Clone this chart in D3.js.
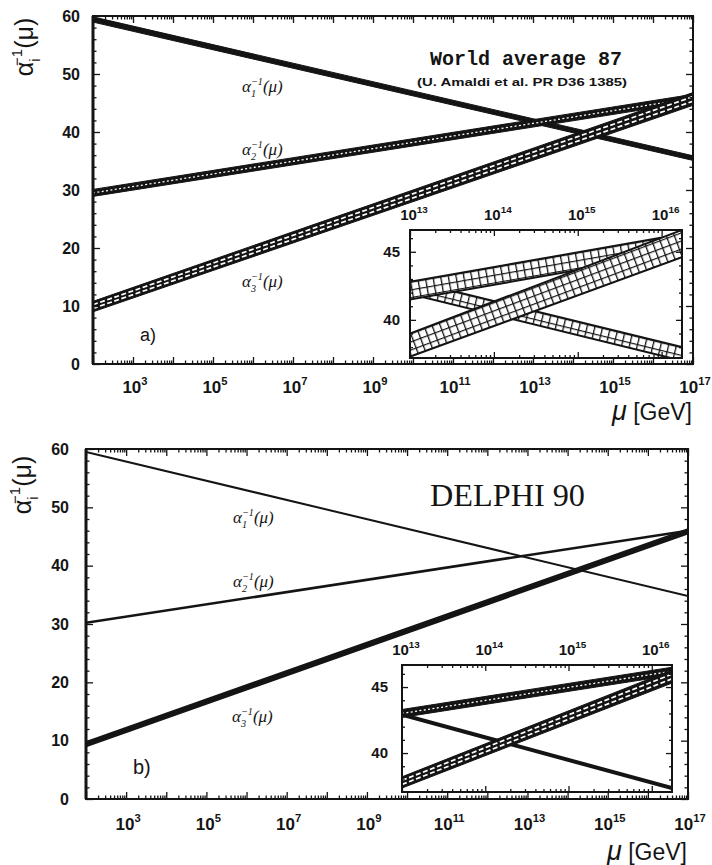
<!DOCTYPE html>
<html><head><meta charset="utf-8">
<script src="https://cdn.jsdelivr.net/npm/d3@7"></script>
<style>body{margin:0;background:#fff}</style>
</head><body>
<svg id="c" width="712" height="865"></svg>
<script>
// ================= DATA =================
const muEnds  = [1e2, 1e17];      // μ range of the main panels (GeV)
const muInset = [1e13, 1.75e16];  // μ range of the insets (GeV)
const yTicksMain  = [0, 10, 20, 30, 40, 50, 60];
const xLabelExpMain  = [3, 5, 7, 9, 11, 13, 15, 17];
const xLabelExpInset = [13, 14, 15, 16];
const yTicksInset = [40, 45];

// panel a (World average 87) – band edges at muEnds
const a1LoA = [58.95, 35.1], a1HiA = [59.85, 35.9];
const a2LoA = [28.9, 45.2], a2HiA = [30.1, 46.5];
const a3LoA = [9.0, 44.6],  a3HiA = [10.8, 46.8];
// panel a inset – band edges at muInset
const a1LoAi = [41.9, 37.0], a1HiAi = [42.9, 38.0];
const a2LoAi = [41.5, 45.0], a2HiAi = [42.8, 46.3];
const a3LoAi = [37.3, 44.6], a3HiAi = [39.0, 46.6];

// panel b (DELPHI 90) – central values at muEnds
const a1B = [59.5, 34.8];
const a2B = [30.2, 46.0];
const a3B = [9.4, 45.9];
// panel b inset – at muInset
const a1Bi = [42.9, 37.35];
const a2LoBi = [42.7, 45.9], a2HiBi = [43.3, 46.5];
const a3LoBi = [37.35, 45.3], a3HiBi = [38.2, 46.3];

// ================= DRAWING =================
const F_SANS  = "'Liberation Sans', Arial, sans-serif";
const F_SERIF = "'Liberation Serif', 'Times New Roman', serif";
const F_MONO  = "'Liberation Mono', 'Courier New', monospace";
const INK = "#141414";

const svg = d3.select("#c");
const defs = svg.append("defs");
let uid = 0;

function decadeTicks(d0, d1) {
  const maj = [], min = [];
  const k0 = Math.floor(Math.log10(d0)), k1 = Math.ceil(Math.log10(d1));
  for (let k = k0; k <= k1; k++) for (let m = 1; m < 10; m++) {
    const v = m * Math.pow(10, k);
    if (v < d0 * 0.999 || v > d1 * 1.001) continue;
    (m === 1 ? maj : min).push(v);
  }
  return [maj, min];
}

function tickSet(g, axisFn, scale, vals, len, tr) {
  g.append("g").attr("transform", tr)
    .call(axisFn(scale).tickValues(vals).tickSize(len).tickFormat(""))
    .call(s => s.select(".domain").remove())
    .call(s => s.selectAll("text").remove())
    .selectAll("line").attr("stroke", INK).attr("stroke-width", 1.3);
}

function frame(g, x, y, box, yMaj, yMin, L, leftW) {
  const [maj, min] = decadeTicks(...x.domain());
  tickSet(g, d3.axisBottom, x, maj, -L, `translate(0,${box.b})`);
  tickSet(g, d3.axisBottom, x, min, -L / 2, `translate(0,${box.b})`);
  tickSet(g, d3.axisTop, x, maj, -L, `translate(0,${box.t})`);
  tickSet(g, d3.axisTop, x, min, -L / 2, `translate(0,${box.t})`);
  tickSet(g, d3.axisLeft, y, yMaj, -L, `translate(${box.l},0)`);
  tickSet(g, d3.axisLeft, y, yMin, -L / 2, `translate(${box.l},0)`);
  tickSet(g, d3.axisRight, y, yMaj, -L, `translate(${box.r},0)`);
  tickSet(g, d3.axisRight, y, yMin, -L / 2, `translate(${box.r},0)`);
  g.append("rect").attr("x", box.l).attr("y", box.t)
    .attr("width", box.r - box.l).attr("height", box.b - box.t)
    .attr("fill", "none").attr("stroke", INK).attr("stroke-width", 2);
  g.append("line").attr("x1", box.l).attr("x2", box.l).attr("y1", box.t).attr("y2", box.b)
    .attr("stroke", INK).attr("stroke-width", leftW);
}

function clip(box) {
  const id = "clip" + (uid++);
  defs.append("clipPath").attr("id", id).append("rect")
    .attr("x", box.l).attr("y", box.t).attr("width", box.r - box.l).attr("height", box.b - box.t);
  return id;
}

function band(g, x, y, mu, lo, hi, type, clipId) {
  const pts = mu.map((m, i) => ({ mu: m, lo: lo[i], hi: hi[i] }));
  const area = d3.area().x(d => x(d.mu)).y0(d => y(d.lo)).y1(d => y(d.hi));
  const frac = f => d3.line().x(d => x(d.mu)).y(d => y(d.lo + (d.hi - d.lo) * f));
  const gg = g.append("g").attr("clip-path", `url(#${clipId})`);
  if (type === "grid") {
    const p0 = pts[0], p1 = pts[pts.length - 1];
    const ang = Math.atan2(y((p1.lo + p1.hi) / 2) - y((p0.lo + p0.hi) / 2), x(p1.mu) - x(p0.mu)) * 180 / Math.PI;
    const pid = "pat" + (uid++), S = 7.6;
    const pat = defs.append("pattern").attr("id", pid).attr("patternUnits", "userSpaceOnUse")
      .attr("width", S).attr("height", S)
      .attr("patternTransform", `translate(${x(p0.mu)},${y(p0.hi)}) rotate(${ang})`);
    pat.append("rect").attr("width", S).attr("height", S).attr("fill", "#fff");
    pat.append("path").attr("d", `M0,0H${S}M0,0V${S}`).attr("stroke", INK).attr("stroke-width", 2.6);
    gg.append("path").attr("d", area(pts)).attr("fill", `url(#${pid})`)
      .attr("stroke", INK).attr("stroke-width", 2);
  } else {
    gg.append("path").attr("d", area(pts)).attr("fill", INK).attr("stroke", INK).attr("stroke-width", 1);
    if (type === "dots") {
      gg.append("path").attr("d", frac(0.5)(pts)).attr("fill", "none").attr("stroke", "#fff")
        .attr("stroke-width", 1.3).attr("stroke-dasharray", "2,2.4");
    } else if (type === "dashes") {
      [0.32, 0.68].forEach(f => gg.append("path").attr("d", frac(f)(pts)).attr("fill", "none")
        .attr("stroke", "#fff").attr("stroke-width", 1.7).attr("stroke-dasharray", "5,2.5"));
    }
  }
}

function curve(g, x, y, mu, vals, w, clipId) {
  const pts = mu.map((m, i) => ({ mu: m, v: vals[i] }));
  g.append("g").attr("clip-path", `url(#${clipId})`).append("path")
    .attr("d", d3.line().x(d => x(d.mu)).y(d => y(d.v))(pts))
    .attr("fill", "none").attr("stroke", INK).attr("stroke-width", w);
}

function pow10(g, x, y, e, fs) {
  const t = g.append("text").attr("x", x).attr("y", y).attr("text-anchor", "middle")
    .attr("font-family", F_SANS).attr("font-weight", "bold").attr("font-size", fs).attr("fill", INK);
  t.append("tspan").text("10");
  t.append("tspan").attr("dy", -fs * 0.5).attr("font-size", fs * 0.66).text(e);
}

function alphaLabel(g, x, y, k, fs, family, italic) {
  const t = g.append("text").attr("x", x).attr("y", y).attr("font-family", family)
    .attr("font-style", italic ? "italic" : "normal").attr("font-size", fs).attr("fill", INK);
  t.append("tspan").text("α");
  t.append("tspan").attr("font-size", fs * 0.6).attr("dy", fs * 0.28).text(k);
  t.append("tspan").attr("font-size", fs * 0.6).attr("dx", -fs * 0.3).attr("dy", -fs * 0.72).text("−1");
  t.append("tspan").attr("dy", fs * 0.44).text("(μ)");
  return t;
}

function panel(cfg) {
  const g = svg.append("g");
  const B = cfg.box, I = cfg.ibox;
  const x = d3.scaleLog().domain(muEnds).range([B.l, B.r]);
  const y = d3.scaleLinear().domain([0, 60]).range([B.b, B.t]);
  const xi = d3.scaleLog().domain(muInset).range([I.l, I.r]);
  const yi = d3.scaleLinear().domain(cfg.iy).range([I.b, I.t]);
  const cm = clip(B), ci = clip(I);

  cfg.mainMarks(g, x, y, cm);
  frame(g, x, y, B, yTicksMain, d3.range(0, 61, 2).filter(v => v % 10), 7, 3);

  // inset
  g.append("rect").attr("x", I.l).attr("y", I.t).attr("width", I.r - I.l).attr("height", I.b - I.t).attr("fill", "#fff");
  cfg.insetMarks(g, xi, yi, ci);
  frame(g, xi, yi, I, yTicksInset, d3.range(Math.ceil(cfg.iy[0]), cfg.iy[1], 1).filter(v => v % 5), 6, 2);

  // tick labels main
  yTicksMain.forEach(v => g.append("text").attr("x", cfg.ylabX).attr("y", y(v)).attr("dy", "0.36em")
    .attr("text-anchor", "end").attr("font-family", F_SANS).attr("font-weight", "bold")
    .attr("font-size", 16).attr("fill", INK).text(v));
  xLabelExpMain.forEach(e => pow10(g, x(Math.pow(10, e)) + 2, B.b + cfg.xlabDy, e, 17));
  // inset labels
  yTicksInset.forEach(v => g.append("text").attr("x", I.l - cfg.iylabOff).attr("y", yi(v)).attr("dy", "0.36em")
    .attr("text-anchor", "end").attr("font-family", F_SANS).attr("font-weight", "bold")
    .attr("font-size", 15).attr("fill", INK).text(v));
  xLabelExpInset.forEach(e => pow10(g, xi(Math.pow(10, e)) + 4, I.t - 10, e, 15));

  // axis titles
  g.append("text").attr("x", B.r - 1).attr("y", cfg.muY).attr("text-anchor", "end")
    .attr("font-family", F_SANS).attr("font-size", 23).attr("fill", INK)
    .call(t => { t.append("tspan").attr("font-style", "italic").attr("font-size", 27).text("μ"); t.append("tspan").text(" [GeV]"); });
  alphaLabel(g, 0, 0, "i", 25, F_SANS, false).attr("text-anchor", "middle")
    .attr("transform", `translate(${cfg.ytitle[0]},${cfg.ytitle[1]}) rotate(-90)`);

  // curve labels
  cfg.labels.forEach(([k, lx, ly]) => alphaLabel(g, lx, ly, k, 17, F_SERIF, true));
  g.append("text").attr("x", cfg.tag[0]).attr("y", cfg.tag[1]).attr("font-family", F_SANS)
    .attr("font-size", cfg.tag[3]).attr("fill", INK).text(cfg.tag[2]);
  cfg.extra(g);
}

// ---------- panel a ----------
panel({
  box: { l: 93, r: 693, t: 16, b: 364 },
  ibox: { l: 410, r: 682, t: 230, b: 358 },
  iy: [37.2, 46.6],
  ylabX: 80, xlabDy: 29, iylabOff: 10, muY: 420, ytitle: [33, 47],
  labels: [["1", 242, 92], ["2", 242, 155], ["3", 242, 287]],
  tag: [140, 341, "a)", 18],
  mainMarks: (g, x, y, c) => {
    band(g, x, y, muEnds, a1LoA, a1HiA, "solid", c);
    band(g, x, y, muEnds, a2LoA, a2HiA, "dots", c);
    band(g, x, y, muEnds, a3LoA, a3HiA, "dashes", c);
  },
  insetMarks: (g, x, y, c) => {
    band(g, x, y, muInset, a1LoAi, a1HiAi, "grid", c);
    band(g, x, y, muInset, a2LoAi, a2HiAi, "grid", c);
    band(g, x, y, muInset, a3LoAi, a3HiAi, "grid", c);
  },
  extra: g => {
    g.append("text").attr("x", 430).attr("y", 65).attr("font-family", F_MONO).attr("font-weight", "bold")
      .attr("font-size", 20).attr("textLength", 192).attr("lengthAdjust", "spacingAndGlyphs")
      .attr("fill", INK).text("World average 87");
    g.append("text").attr("x", 417).attr("y", 86).attr("font-family", F_SANS).attr("font-weight", "bold")
      .attr("font-size", 10.5).attr("textLength", 210).attr("lengthAdjust", "spacingAndGlyphs")
      .attr("fill", INK).text("(U. Amaldi et al. PR D36 1385)");
  }
});

// ---------- panel b ----------
panel({
  box: { l: 86, r: 688, t: 449, b: 799 },
  ibox: { l: 402, r: 672, t: 665, b: 792 },
  iy: [37.05, 46.67],
  ylabX: 69, xlabDy: 31, iylabOff: 14, muY: 860, ytitle: [31, 485],
  labels: [["1", 233, 523], ["2", 233, 587], ["3", 232, 722]],
  tag: [133, 774, "b)", 20],
  mainMarks: (g, x, y, c) => {
    curve(g, x, y, muEnds, a1B, 2, c);
    curve(g, x, y, muEnds, a2B, 2.6, c);
    curve(g, x, y, muEnds, a3B, 6, c);
  },
  insetMarks: (g, x, y, c) => {
    curve(g, x, y, muInset, a1Bi, 4, c);
    band(g, x, y, muInset, a2LoBi, a2HiBi, "dots", c);
    band(g, x, y, muInset, a3LoBi, a3HiBi, "dashes", c);
  },
  extra: g => {
    g.append("text").attr("x", 430).attr("y", 506).attr("font-family", F_SERIF)
      .attr("font-size", 31).attr("textLength", 155).attr("lengthAdjust", "spacingAndGlyphs")
      .attr("fill", INK).text("DELPHI 90");
  }
});
</script>
</body></html>
